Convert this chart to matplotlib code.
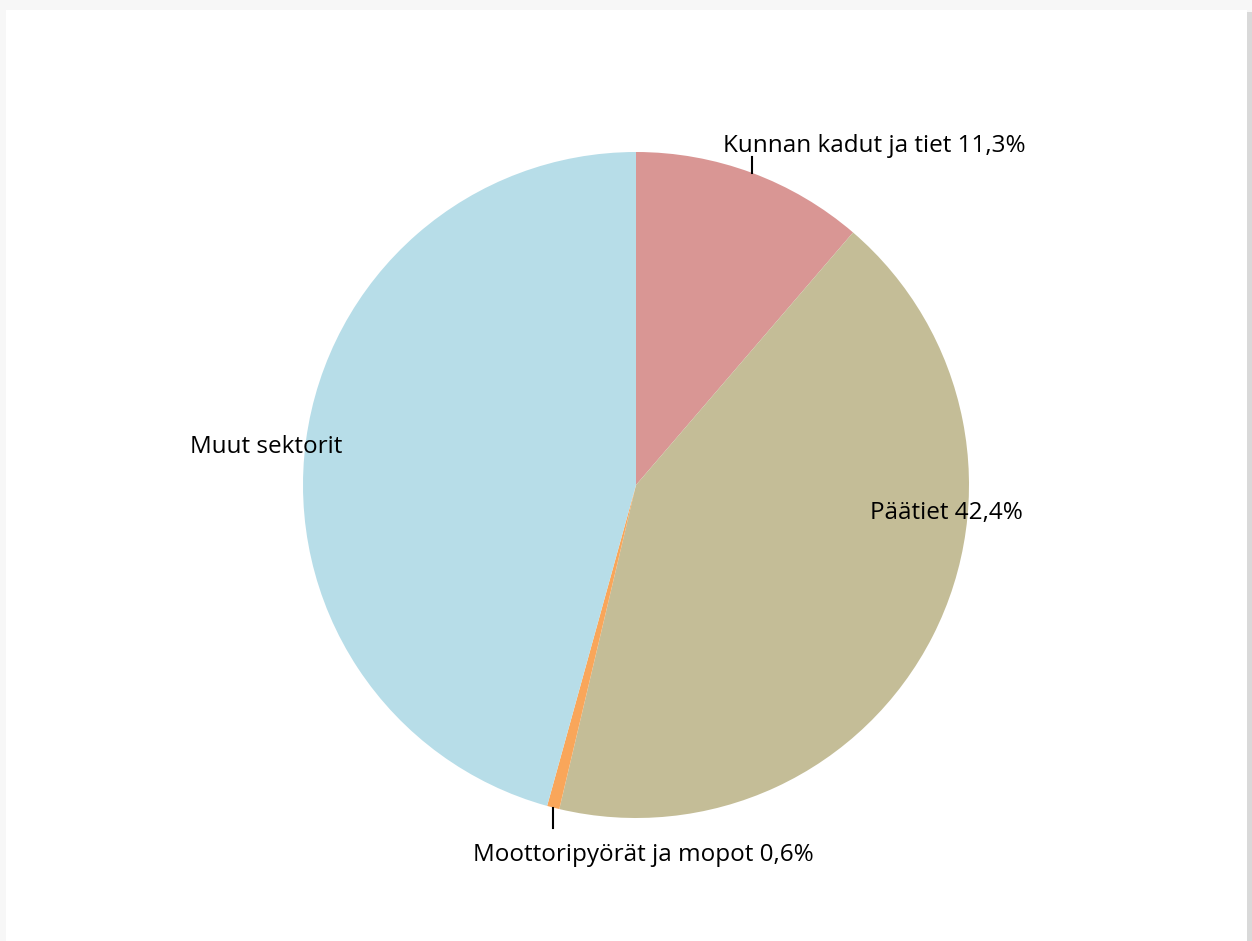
import matplotlib.pyplot as plt
import numpy as np
from matplotlib.patches import Rectangle

# data
labels = ['Kunnan kadut ja tiet', 'Päätiet', 'Moottoripyörät ja mopot', 'Muut sektorit']
values = [11.3, 42.4, 0.6, 45.7]
show_pct = [True, True, True, False]
colors = ['#D99694', '#C4BD97', '#F9A65A', '#B7DDE8']

W, H = 1252, 941
fig = plt.figure(figsize=(W / 100, H / 100), dpi=100)
fig.patch.set_facecolor('#f7f7f7')

ax = fig.add_axes([0, 0, 1, 1])

cx, cy, r = 636, H - 485, 333
wedges, _ = ax.pie(values, colors=colors, startangle=90, counterclock=False,
                   center=(cx, cy), radius=r, wedgeprops=dict(linewidth=0))

# pie() resets the limits, so set them afterwards
ax.set_xlim(0, W)
ax.set_ylim(0, H)
ax.set_aspect('equal')
ax.axis('off')

# chart area (white with soft shadow at right)
ax.add_patch(Rectangle((1246, 0), 6, H - 12, facecolor='#d9d9d9', edgecolor='none', zorder=0))
ax.add_patch(Rectangle((6, 0), 1241, H - 10, facecolor='white', edgecolor='none', zorder=0.5))

def fmt(i):
    if show_pct[i]:
        return f'{labels[i]} {values[i]:.1f}%'.replace('.', ',')
    return labels[i]

font = dict(family=['Open Sans', 'DejaVu Sans'], fontsize=17.5, color='black')

# Kunnan kadut: leader line up, label to the right
w = wedges[0]
a = np.deg2rad((w.theta1 + w.theta2) / 2)
x0, y0 = cx + r * np.cos(a), cy + r * np.sin(a)
ax.plot([x0, x0], [y0, y0 + 16], color='black', lw=1.5)
ax.text(723, H - 152, fmt(0), ha='left', va='baseline', **font)

# Päätiet: inside
ax.text(946, H - 513, fmt(1), ha='center', va='center', **font)

# Moottoripyörät: leader line down
w = wedges[2]
a = np.deg2rad((w.theta1 + w.theta2) / 2)
x0, y0 = cx + r * np.cos(a), cy + r * np.sin(a)
ax.plot([x0, x0], [y0, y0 - 20], color='black', lw=1.5)
ax.text(643, H - 855, fmt(2), ha='center', va='center', **font)

# Muut sektorit
ax.text(266, H - 447, fmt(3), ha='center', va='center', **font)

fig.savefig('out.png', dpi=100, facecolor=fig.get_facecolor())
